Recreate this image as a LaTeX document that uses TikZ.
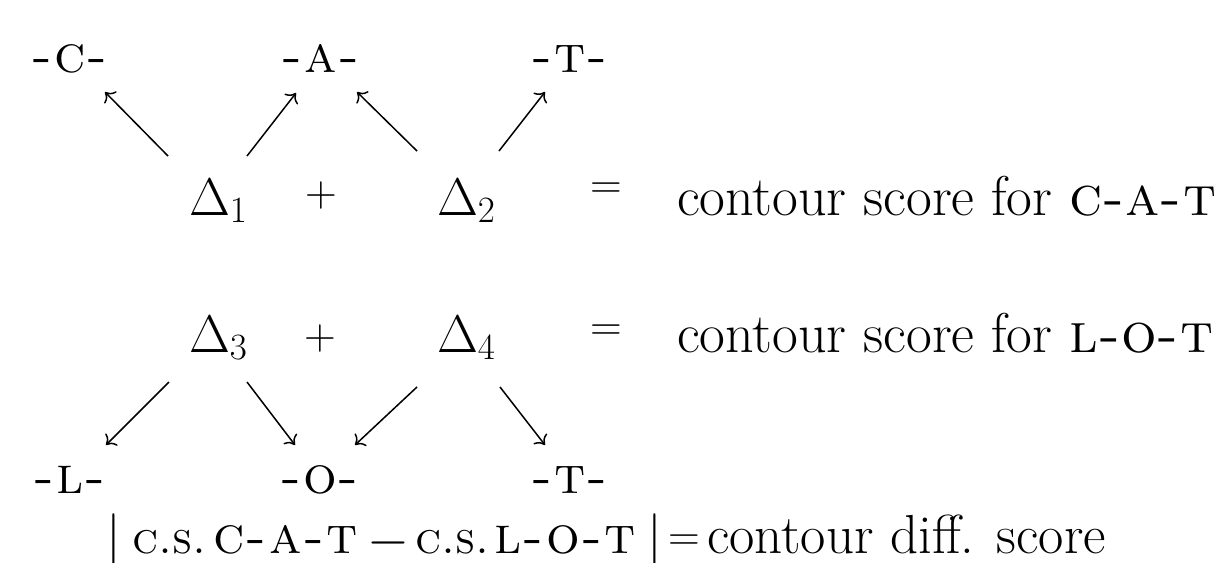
\RequirePackage{fix-cm}
\documentclass[tikz,border=0pt]{standalone}
\usetikzlibrary{arrows.meta}
\newcommand\mainsz{\fontsize{26.5}{30}\selectfont}
\newcommand\rowsz{\fontsize{28}{32}\selectfont}
\newcommand\diffsz{\fontsize{27.5}{32}\selectfont}
\newcommand\opsz{\fontsize{22}{26}\selectfont}
\newcommand\minsz{\fontsize{27}{30}\selectfont}
\newcommand\cssz{\fontsize{22}{26}\selectfont}
\newcommand\hy{\kern1.2pt-\kern1.2pt}
\newcommand\hyr{\kern0.5pt-\kern0.5pt}
\begin{document}
\begin{tikzpicture}[x=0.5pt,y=-0.5pt,
  every node/.style={inner sep=0pt, outer sep=0pt},
  txt/.style={font=\mainsz, anchor=base west},
  rowtxt/.style={font=\rowsz, anchor=base west},
  lab/.style={font=\mainsz, anchor=base},
  op/.style={font=\opsz, anchor=center},
  arr/.style={line width=0.75pt, -{To[length=4.2pt,width=8.5pt]}}]
\useasboundingbox (0,0) rectangle (1218,562);
% top labels
\node[lab] (C)  at (70,72)  {\textsc{-\kern1pt c\kern1pt -}};
\node[lab] (A)  at (321,72) {\textsc{-\kern1pt a\kern1pt -}};
\node[lab] (T1) at (570,72) {\textsc{-\kern1pt t\kern1pt -}};
% row 1
\node[txt] (D1) at (189,215) {$\Delta_1$};
\node[op]  (P1) at (321,195) {$+$};
\node[txt] (D2) at (437,215) {$\Delta_2$};
\node[op]  (E1) at (606,191) {$=$};
\node[rowtxt] (R1) at (677,215) {contour score for \textsc{c\hyr a\hyr t}};
% row 2
\node[txt] (D3) at (189,352) {$\Delta_3$};
\node[op]  (P2) at (320,338) {$+$};
\node[txt] (D4) at (437,352) {$\Delta_4$};
\node[op]  (E2) at (606,333) {$=$};
\node[rowtxt] (R2) at (677,352) {contour score for \textsc{l\hyr o\hyr t}};
% bottom labels
\node[lab] (L)  at (70,493)  {\textsc{-\kern1pt l\kern1pt -}};
\node[lab] (O)  at (320,493) {\textsc{-\kern1pt o\kern1pt -}};
\node[lab] (T2) at (570,493) {\textsc{-\kern1pt t\kern1pt -}};
% arrow end points
\coordinate (a1s) at (168,156); \coordinate (a1e) at (105,92);
\coordinate (a2s) at (247,156); \coordinate (a2e) at (296,93);
\coordinate (a3s) at (417,151); \coordinate (a3e) at (357,92);
\coordinate (a4s) at (499,151); \coordinate (a4e) at (545,92);
\coordinate (b1s) at (169,382); \coordinate (b1e) at (106,445);
\coordinate (b2s) at (247,382); \coordinate (b2e) at (295,445);
\coordinate (b3s) at (417,387); \coordinate (b3e) at (355,445);
\coordinate (b4s) at (500,387); \coordinate (b4e) at (545,445);
\foreach \i in {a1,a2,a3,a4,b1,b2,b3,b4} \draw[arr] (\i s) -- (\i e);
% bottom line
\node[txt] (bar1) at (106,553) {$|$};
\node[txt] (cs1)  at (132,553) {\cssz\textsc{c.s.}};
\node[txt] (cat)  at (213,553) {\textsc{c\hy a\hy t}};
\node[op, font=\minsz] (mi) at (388,543) {$-$};
\node[txt] (cs2)  at (415,553) {\cssz\textsc{c.s.}};
\node[txt] (lot)  at (494,553) {\textsc{l\hy o\hy t}};
\node[txt] (bar2) at (647,553) {$|$};
\node[op]  (eq3)  at (684,543) {$=$};
\node[txt, font=\diffsz] (diff) at (707,553) {contour diff. score};
\end{tikzpicture}
\end{document}
